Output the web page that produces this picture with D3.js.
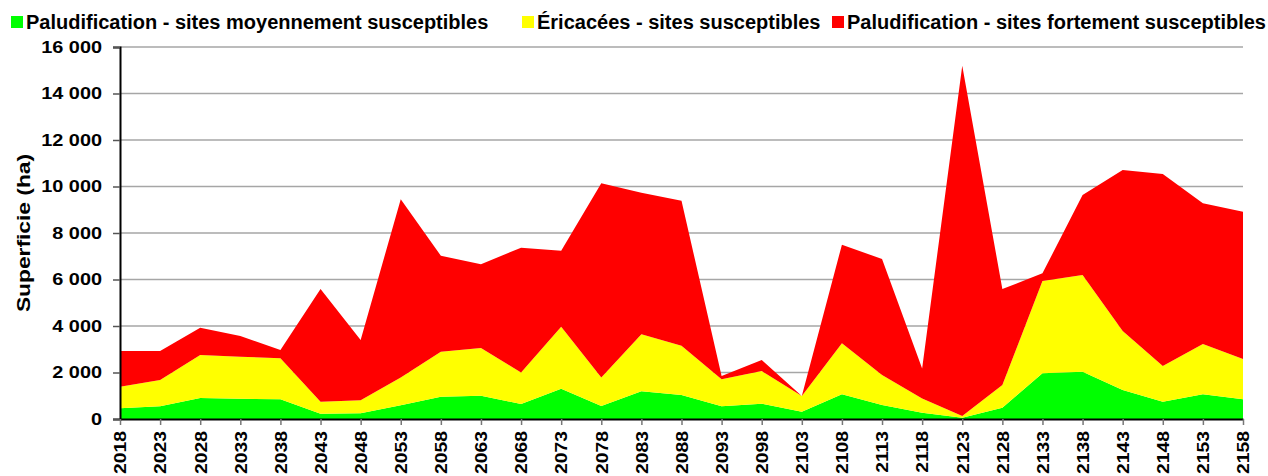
<!DOCTYPE html>
<html lang="fr">
<head>
    <meta charset="UTF-8">
    <title>Superficie par classe de susceptibilité</title>
    <script src="https://d3js.org/d3.v7.min.js"></script>
    <style>
        body { margin: 0; background: #fff; }
        svg text { font-family: "Liberation Sans", Arial, sans-serif; font-weight: bold; fill: #000; }
    </style>
</head>
<body>
<div id="chart"></div>
<script>
    // Years (x categories)
    const years = ["2018","2023","2028","2033","2038","2043","2048","2053","2058","2063",
                   "2068","2073","2078","2083","2088","2093","2098","2103","2108","2113",
                   "2118","2123","2128","2133","2138","2143","2148","2153","2158"];

    // Series values (ha)
    const moyennement = [460, 545, 900, 875, 845, 230, 245, 590, 960, 1005,
                         645, 1305, 560, 1190, 1030, 545, 660, 315, 1060, 600,
                         270, 55, 485, 1965, 2035, 1245, 745, 1060, 845];
    const ericacees   = [930, 1130, 1850, 1805, 1765, 515, 560, 1200, 1935, 2050,
                         1350, 2665, 1220, 2450, 2120, 1160, 1405, 675, 2195, 1290,
                         615, 70, 975, 3970, 4155, 2540, 1535, 2165, 1735];
    const fortement   = [1535, 1250, 1175, 890, 360, 4845, 2595, 7660, 4130, 3600,
                         5375, 3270, 8360, 6095, 6235, 145, 475, 0, 4245, 4990,
                         1290, 15070, 4130, 330, 3440, 6925, 8255, 6050, 6335];

    const seriesNames = ["Paludification - sites moyennement susceptibles",
                         "Éricacées - sites susceptibles",
                         "Paludification - sites fortement susceptibles"];
    const seriesColors = ["#00ff00", "#ffff00", "#ff0000"];
    const yTicks = [0, 2000, 4000, 6000, 8000, 10000, 12000, 14000, 16000];

    const width = 1268, height = 476;
    const margin = { top: 47, right: 25, bottom: 57, left: 120 };
    const stretch = 1.17; // the original text is a bit wider than Liberation

    const rows = years.map((yr, i) => ({ year: yr, a: moyennement[i], b: ericacees[i], c: fortement[i] }));
    const keys = ["a", "b", "c"];

    const svg = d3.select("#chart").append("svg")
        .attr("width", width)
        .attr("height", height);

    const x = d3.scalePoint().domain(years).range([margin.left, width - margin.right]);
    const y = d3.scaleLinear().domain([0, 16000]).range([height - margin.bottom, margin.top]);

    // Gridlines
    svg.append("g")
        .selectAll("line")
        .data(yTicks.slice(1))
        .join("line")
        .attr("x1", margin.left).attr("x2", width - margin.right)
        .attr("y1", d => y(d)).attr("y2", d => y(d))
        .attr("stroke", "#a6a6a6")
        .attr("stroke-width", 1.5);

    // Stacked areas
    const stacked = d3.stack().keys(keys)(rows);
    const area = d3.area()
        .x(d => x(d.data.year))
        .y0(d => y(d[0]))
        .y1(d => y(d[1]));

    svg.append("g")
        .selectAll("path")
        .data(stacked)
        .join("path")
        .attr("d", area)
        .attr("fill", (d, i) => seriesColors[i]);

    // Y axis
    const fmt = v => v === 0 ? "0" : d3.format(",")(v).replace(",", " ");
    const yAxis = svg.append("g")
        .attr("transform", `translate(${margin.left},0)`)
        .call(d3.axisLeft(y).tickValues(yTicks).tickFormat(fmt).tickSize(7).tickPadding(10));
    yAxis.select(".domain").attr("stroke", "#000").attr("stroke-width", 2);
    yAxis.selectAll(".tick line").attr("stroke", "#555").attr("stroke-width", 1.5);
    yAxis.selectAll("text")
        .style("font-size", "17px")
        .attr("transform", `scale(${stretch},1)`)
        .attr("x", -18 / stretch);

    // X axis
    const xAxis = svg.append("g")
        .attr("transform", `translate(0,${height - margin.bottom})`)
        .call(d3.axisBottom(x).tickSize(6).tickSizeOuter(0));
    xAxis.select(".domain").attr("stroke", "#000").attr("stroke-width", 2);
    xAxis.selectAll(".tick line").attr("stroke", "#777").attr("stroke-width", 1.5);
    xAxis.selectAll("text")
        .style("font-size", "16.5px")
        .attr("transform", `rotate(-90) scale(${stretch},1)`)
        .attr("text-anchor", "end")
        .attr("x", -12 / stretch)
        .attr("y", 0)
        .attr("dy", "0.35em");

    // Y title
    svg.append("text")
        .attr("transform", `translate(30,${(margin.top + height - margin.bottom) / 2}) rotate(-90) scale(1.2,1)`)
        .attr("text-anchor", "middle")
        .style("font-size", "19px")
        .text("Superficie (ha)");

    // Legend
    const legendX = [11, 522, 832];
    const legend = svg.append("g")
        .selectAll("g")
        .data(seriesNames)
        .join("g")
        .attr("transform", (d, i) => `translate(${legendX[i]},16)`);
    legend.append("rect")
        .attr("width", 12).attr("height", 12)
        .attr("fill", (d, i) => seriesColors[i]);
    legend.append("text")
        .attr("x", 15).attr("y", 6)
        .attr("dy", "0.35em")
        .style("font-size", "20px")
        .text(d => d);
</script>
</body>
</html>
